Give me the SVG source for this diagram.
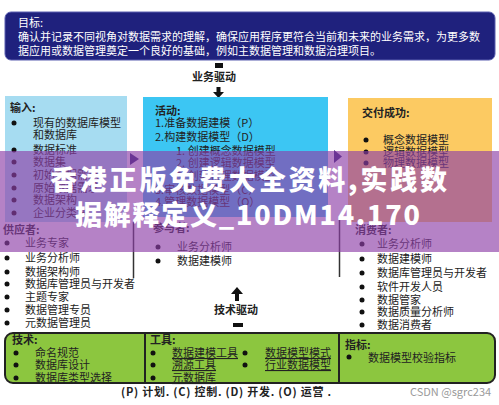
<svg xmlns="http://www.w3.org/2000/svg" width="499" height="405" viewBox="0 0 499 405">
<style>
.t{font-family:"Noto Sans CJK SC","Noto Sans",sans-serif;font-size:11px;fill:#222}
.w{font-family:"Noto Sans CJK SC","Noto Sans",sans-serif;font-size:11px;fill:#fff}
.b{font-weight:bold}
.u{text-decoration:underline}
.dot{fill:#111}
.wm{font-family:"Noto Sans CJK SC","Noto Sans",sans-serif;font-size:27px;font-weight:900;fill:#fff}
</style>
<rect width="499" height="405" fill="#fff"/>
<g id="goal">
<rect x="5" y="12" width="490" height="48" rx="6" fill="#1f217d" stroke="#5a5fb0" stroke-width="1"/>
<text class="w" x="18" y="27">目标:</text>
<text class="w" x="18" y="41">确认并记录不同视角对数据需求的理解，确保应用程序更符合当前和未来的业务需求，为更多数</text>
<text class="w" x="18" y="55">据应用或数据管理奠定一个良好的基础，例如主数据管理和数据治理项目。</text>
</g>
<g id="connectors">
<rect x="215" y="63" width="8" height="5" fill="#111"/>
<text class="t b" x="214" y="81" text-anchor="middle" font-size="12">业务驱动</text>
<rect x="216.5" y="87" width="4" height="6" fill="#111"/>
<polygon points="213,92 224,92 218.5,98" fill="#111"/>
<polygon points="130,153 139,159 130,165" fill="#2a2170"/>
<polygon points="334,150 342,156.5 334,163" fill="#2a2170"/>
<line x1="133.5" y1="222" x2="133.5" y2="278" stroke="#333" stroke-width="1.5"/>
<line x1="339.5" y1="220" x2="339.5" y2="277" stroke="#333" stroke-width="1.5"/>
<polygon points="231,294 237,287 243,294" fill="#111"/>
<rect x="235" y="293" width="4" height="8" fill="#111"/>
<text class="t b" x="236" y="314" text-anchor="middle" font-size="12">技术驱动</text>
<rect x="233" y="323" width="10" height="4" fill="#111"/>
</g>
<g id="inputs">
<rect x="5" y="96" width="122" height="126" fill="#a6dcf1"/>
<text class="t b" x="10" y="112">输入:</text>
<circle class="dot" cx="14" cy="123" r="2.5"/><text class="t" x="33" y="127">现有的数据库模型</text>
<text class="t" x="33" y="139">和数据库</text>
<circle class="dot" cx="14" cy="150" r="2.5"/><text class="t" x="33" y="154">数据标准</text>
<circle class="dot" cx="14" cy="162" r="2.5"/><text class="t" x="33" y="166">数据集</text>
<circle class="dot" cx="14" cy="175" r="2.5"/><text class="t" x="33" y="179">初始数据需求</text>
<circle class="dot" cx="14" cy="188" r="2.5"/><text class="t" x="33" y="192">原始数据需求</text>
<circle class="dot" cx="14" cy="200" r="2.5"/><text class="t" x="33" y="204">数据架构</text>
<circle class="dot" cx="14" cy="213" r="2.5"/><text class="t" x="33" y="217">企业分类法</text>
</g>
<g id="suppliers">
<text class="t b" x="3" y="234">供应者:</text>
<circle class="dot" cx="7" cy="243" r="2.5"/><text class="t" x="25" y="247">业务专家</text>
<circle class="dot" cx="7" cy="258" r="2.5"/><text class="t" x="25" y="262">业务分析师</text>
<circle class="dot" cx="7" cy="272" r="2.5"/><text class="t" x="25" y="276">数据架构师</text>
<circle class="dot" cx="7" cy="284" r="2.5"/><text class="t" x="25" y="288">数据库管理员与开发者</text>
<circle class="dot" cx="7" cy="297" r="2.5"/><text class="t" x="25" y="301">主题专家</text>
<circle class="dot" cx="7" cy="310" r="2.5"/><text class="t" x="25" y="314">数据管理专员</text>
<circle class="dot" cx="7" cy="323" r="2.5"/><text class="t" x="25" y="327">元数据管理员</text>
</g>
<g id="activities">
<rect x="143" y="97" width="185" height="120" fill="#3cc6f3"/>
<text class="t b" x="155" y="115">活动:</text>
<text class="t" x="155" y="127">1.准备数据建模（P）</text>
<text class="t" x="155" y="141">2.构建数据模型（D）</text>
<text class="t" x="176" y="155">1. 创建概念数据模型</text>
<text class="t" x="176" y="167">2. 创建逻辑数据模型</text>
<text class="t" x="176" y="180">3. 创建物理数据模型</text>
<text class="t" x="155" y="194">3.审核数据模型（C）</text>
<text class="t" x="155" y="206">4.管理数据模型（O）</text>
</g>
<g id="participants">
<text class="t b" x="153" y="232">参与者:</text>
<circle class="dot" cx="158" cy="247" r="2.5"/><text class="t" x="177" y="251">业务分析师</text>
<circle class="dot" cx="158" cy="261" r="2.5"/><text class="t" x="177" y="265">数据建模师</text>
</g>
<g id="deliverables">
<rect x="348" y="98" width="144" height="124" fill="#fcca62"/>
<text class="t b" x="362" y="117">交付成功:</text>
<circle class="dot" cx="366" cy="140" r="2.5"/><text class="t" x="383" y="144">概念数据模型</text>
<circle class="dot" cx="366" cy="152" r="2.5"/><text class="t" x="383" y="156">逻辑数据模型</text>
<circle class="dot" cx="366" cy="163" r="2.5"/><text class="t" x="383" y="167">物理数据模型</text>
</g>
<g id="consumers">
<text class="t b" x="355" y="234">消费者:</text>
<circle class="dot" cx="362" cy="244" r="2.5"/><text class="t" x="377" y="248">业务分析师</text>
<circle class="dot" cx="362" cy="259" r="2.5"/><text class="t" x="377" y="263">数据建模师</text>
<circle class="dot" cx="362" cy="273" r="2.5"/><text class="t" x="377" y="277">数据库管理员与开发者</text>
<circle class="dot" cx="362" cy="287" r="2.5"/><text class="t" x="377" y="291">软件开发人员</text>
<circle class="dot" cx="362" cy="300" r="2.5"/><text class="t" x="377" y="304">数据管家</text>
<circle class="dot" cx="362" cy="312" r="2.5"/><text class="t" x="377" y="316">数据质量分析师</text>
<circle class="dot" cx="362" cy="325" r="2.5"/><text class="t" x="377" y="329">数据消费者</text>
</g>
<g id="techniques-tools-metrics">
<rect x="5" y="333" width="490" height="50" rx="8" fill="#8cc63f" stroke="#222" stroke-width="2"/>
<line x1="145" y1="333" x2="145" y2="383" stroke="#222" stroke-width="2"/>
<line x1="339" y1="333" x2="339" y2="383" stroke="#222" stroke-width="2"/>
<text class="t b" x="12" y="344">技术:</text>
<circle class="dot" cx="16" cy="353" r="2.5"/><text class="t" x="35" y="357">命名规范</text>
<circle class="dot" cx="16" cy="365" r="2.5"/><text class="t" x="35" y="369">数据库设计</text>
<circle class="dot" cx="16" cy="378" r="2.5"/><text class="t" x="35" y="382">数据库类型选择</text>
<text class="t b" x="150" y="344">工具:</text>
<circle class="dot" cx="153" cy="353" r="2.5"/><text class="t u" x="172" y="357">数据建模工具</text>
<circle class="dot" cx="153" cy="365" r="2.5"/><text class="t u" x="172" y="369">溯源工具</text>
<circle class="dot" cx="153" cy="378" r="2.5"/><text class="t u" x="172" y="382">元数据库</text>
<circle class="dot" cx="245" cy="353" r="2.5"/><text class="t u" x="265" y="357">数据模型模式</text>
<circle class="dot" cx="245" cy="365" r="2.5"/><text class="t u" x="265" y="369">行业数据模型</text>
<text class="t b" x="345" y="349">指标:</text>
<circle class="dot" cx="349" cy="357" r="2.5"/><text class="t" x="368" y="362">数据模型校验指标</text>
</g>
<g id="legend">
<text class="t b" x="121" y="396" font-size="12" textLength="210" lengthAdjust="spacing">(P) 计划.  (C) 控制. (D) 开发.  (O)  运营 .</text>
<text class="t" x="410" y="396" style="fill:#9a9a9a">CSDN @sgrc234</text>
</g>
<g id="watermark">
<rect x="0" y="151" width="499" height="101" fill="#8e3fa8" opacity="0.65"/>
<text class="wm" x="50" y="190" textLength="397" lengthAdjust="spacing">香港正版免费大全资料,实践数</text>
<text class="wm" x="75" y="225" textLength="345" lengthAdjust="spacing">据解释定义_10DM14.170</text>
</g>
</svg>
